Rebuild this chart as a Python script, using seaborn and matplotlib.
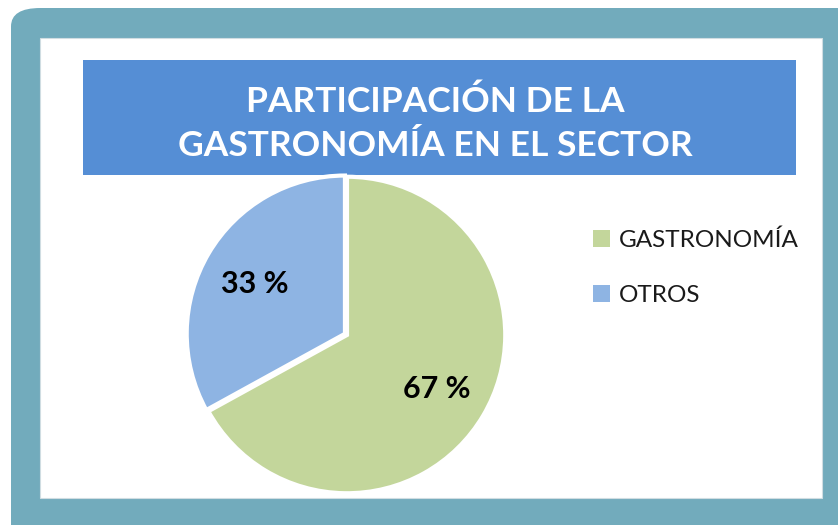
import seaborn as sns
import matplotlib.pyplot as plt
from matplotlib.patches import FancyBboxPatch, Rectangle

# data
categorias = ['GASTRONOMÍA', 'OTROS']
valores = [67, 33]
etiquetas = ['67 %', '33 %']
colores = ['#C3D69B', '#8EB4E3']
titulo = 'PARTICIPACIÓN DE LA\nGASTRONOMÍA EN EL SECTOR'

sns.set_theme(style='white')
plt.rcParams['font.family'] = ['Lato', 'DejaVu Sans']

W, H = 838, 525
fig = plt.figure(figsize=(W / 100, H / 100), dpi=100)

def fx(px):
    return px / W

def fy(py):
    return 1 - py / H

# outer teal frame
fig.patches.append(FancyBboxPatch((fx(11), fy(560)), fx(880), 552 / H,
                                  boxstyle='round,pad=0,rounding_size=0.035',
                                  transform=fig.transFigure, facecolor='#72ABBC',
                                  edgecolor='none', zorder=0))
# white inner panel
fig.patches.append(Rectangle((fx(40), fy(498)), fx(782), 460 / H,
                             transform=fig.transFigure, facecolor='white',
                             edgecolor='#D0DDE2', lw=0.8, zorder=1))
# title box
fig.patches.append(Rectangle((fx(83), fy(175)), fx(713), 115 / H,
                             transform=fig.transFigure, facecolor='#558ED5',
                             edgecolor='none', zorder=2))
fig.text(fx(435), fy(124), titulo, ha='center', va='center', color='white',
         fontsize=25.5, fontweight='bold', linespacing=1.45, zorder=3)

# pie
cx, cy, r = 347, 335, 163
ax = fig.add_axes([fx(cx - r), 1 - (cy + r) / H, 2 * r / W, 2 * r / H])
wedges, _ = ax.pie(valores, colors=colores, startangle=90, counterclock=False,
                   explode=[0, 0.015],
                   wedgeprops=dict(edgecolor='white', linewidth=3))
ax.set_aspect('equal')
ax.set_xlim(-1.03, 1.03)
ax.set_ylim(-1.03, 1.03)
ax.axis('off')
ax.set_zorder(4)

ax.text(0.57, -0.34, etiquetas[0], ha='center', va='center', fontsize=22,
        fontweight='bold', color='black')
ax.text(-0.58, 0.32, etiquetas[1], ha='center', va='center', fontsize=22,
        fontweight='bold', color='black')

leg = fig.legend(wedges, categorias, loc='upper left',
                 bbox_to_anchor=(fx(571), fy(208)), frameon=False,
                 fontsize=17.5, handlelength=0.7, handleheight=0.7,
                 handletextpad=0.35, labelspacing=1.4, labelcolor='#1a1a1a')
for h in leg.legend_handles:
    h.set_edgecolor('none')
leg.set_zorder(5)

fig.savefig('out.png', dpi=100)
